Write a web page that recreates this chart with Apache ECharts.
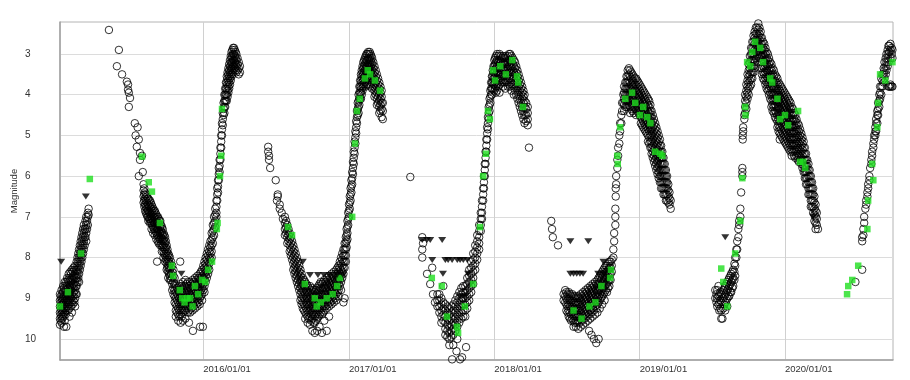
<!DOCTYPE html>
<html>
<head>
<meta charset="utf-8">
<script src="https://cdn.jsdelivr.net/npm/echarts@6/dist/echarts.min.js"></script>
<style>html,body{margin:0;padding:0;background:#fff}#c{width:910px;height:380px}</style>
</head>
<body>
<div id="c"></div>
<script>
// x values: days since 2015-01-01 (UTC); y values: magnitude
const BASE_DATE = '2015-01-01';
const X_TICK_LABELS = ['2016/01/01', '2017/01/01', '2018/01/01', '2019/01/01', '2020/01/01'];
const Y_TICK_VALUES = [3, 4, 5, 6, 7, 8, 9, 10];
const Y_NAME = 'Magnitude';

// visual estimates, rows: [day, mag, mag, ...]
const VIS_CYCLE1 = [
 [3, 9.0, 9.15, 9.3, 9.45], [5, 8.9, 9.05, 9.2, 9.35, 9.5, 9.65], [7, 8.95, 9.1, 9.25, 9.4, 9.55],
 [9, 8.8, 9.0, 9.15, 9.3, 9.45, 9.6], [11, 8.9, 9.05, 9.2, 9.35, 9.5], [13, 8.7, 8.85, 9.0, 9.15, 9.3, 9.45],
 [15, 8.75, 8.95, 9.1, 9.25, 9.4, 9.7], [17, 8.6, 8.8, 9.0, 9.2, 9.35, 9.55], [19, 8.7, 8.9, 9.05, 9.25, 9.4],
 [21, 8.6, 8.8, 8.95, 9.1, 9.3, 9.7], [23, 8.5, 8.7, 8.9, 9.05, 9.2], [25, 8.55, 8.75, 8.9, 9.1, 9.3],
 [27, 8.4, 8.6, 8.8, 9.0, 9.15], [29, 8.5, 8.7, 8.85, 9.05, 9.25, 9.45], [31, 8.35, 8.55, 8.75, 8.95, 9.1],
 [33, 8.4, 8.6, 8.8, 9.0, 9.2], [35, 8.3, 8.5, 8.7, 8.9, 9.1, 9.35], [37, 8.35, 8.55, 8.75, 8.95, 9.15],
 [39, 8.25, 8.45, 8.65, 8.85, 9.05], [41, 8.3, 8.5, 8.7, 8.9, 9.1], [43, 8.2, 8.4, 8.6, 8.8, 9.0, 9.2],
 [45, 8.3, 8.5, 8.7, 8.9], [47, 8.1, 8.3, 8.5, 8.7, 8.9], [49, 8.0, 8.2, 8.4, 8.6], [51, 7.9, 8.1, 8.3, 8.5],
 [53, 7.8, 8.0, 8.2, 8.4, 8.6], [55, 7.7, 7.9, 8.1, 8.3], [57, 7.6, 7.8, 8.0, 8.2], [59, 7.5, 7.7, 7.9, 8.1],
 [61, 7.4, 7.6, 7.8, 8.0], [63, 7.3, 7.5, 7.7, 7.9], [65, 7.2, 7.4, 7.6, 7.8], [67, 7.3, 7.5, 7.7],
 [69, 7.1, 7.3, 7.5], [71, 7.0, 7.2, 7.4, 7.6], [73, 7.1, 7.3], [75, 6.9, 7.0, 7.2], [77, 6.8, 6.95]
];
const VIS_CYCLE2 = [
 [128, 2.41], [148, 3.3], [153, 2.9], [161, 3.5], [173, 3.68], [176, 3.75, 3.88], [178, 3.95, 4.3], [181, 4.08],
 [193, 4.7], [195, 5.0], [198, 5.28], [200, 4.8], [203, 5.1, 6.0], [206, 5.43, 5.6], [211, 5.5], [213, 5.9],
 [215, 6.2, 6.35, 6.5, 6.65], [217, 6.3, 6.45, 6.6, 6.75], [219, 6.4, 6.55, 6.7, 6.85], [221, 6.45, 6.6, 6.75, 6.9],
 [223, 6.5, 6.65, 6.8, 6.95], [225, 6.55, 6.7, 6.85, 7.0], [227, 6.55, 6.7, 6.85, 7.0, 7.1], [229, 6.6, 6.75, 6.9, 7.05],
 [231, 6.6, 6.75, 6.9, 7.05, 7.15], [233, 6.65, 6.8, 6.95, 7.1], [235, 6.7, 6.85, 7.0, 7.15, 7.3],
 [237, 6.75, 6.9, 7.05, 7.2], [239, 6.8, 6.95, 7.1, 7.25, 7.4], [241, 6.85, 7.0, 7.15, 7.3],
 [243, 6.85, 7.0, 7.15, 7.3, 7.45], [245, 6.9, 7.05, 7.2, 7.35], [247, 6.95, 7.1, 7.25, 7.4, 7.55],
 [249, 7.0, 7.15, 7.3, 7.45, 8.1], [251, 7.0, 7.15, 7.3, 7.45, 7.6], [253, 7.05, 7.2, 7.35, 7.5, 7.65],
 [255, 7.1, 7.25, 7.4, 7.55], [257, 7.1, 7.25, 7.4, 7.55, 7.7], [259, 7.2, 7.35, 7.5, 7.65],
 [261, 7.25, 7.4, 7.55, 7.7, 7.85], [263, 7.3, 7.45, 7.6, 7.75], [265, 7.4, 7.55, 7.7, 7.85, 8.0],
 [267, 7.45, 7.6, 7.75, 7.9], [269, 7.5, 7.65, 7.8, 7.95, 8.1], [271, 7.6, 7.75, 7.9, 8.05],
 [273, 7.7, 7.85, 8.0, 8.15, 8.3], [275, 7.8, 7.95, 8.1, 8.25], [277, 7.9, 8.05, 8.2, 8.35, 8.5],
 [279, 7.95, 8.1, 8.25, 8.4], [281, 8.0, 8.15, 8.3, 8.45, 8.55], [284, 8.1, 8.25, 8.4, 8.55],
 [287, 8.2, 8.35, 8.5, 8.65, 8.8], [290, 8.3, 8.45, 8.6, 8.75, 8.9], [293, 8.5, 8.65, 8.8, 8.95, 9.1],
 [296, 8.7, 8.85, 9.0, 9.15, 9.3, 9.45], [299, 8.75, 8.9, 9.05, 9.2, 9.35], [302, 8.8, 8.95, 9.1, 9.25, 9.4, 9.55],
 [305, 8.7, 8.85, 9.0, 9.15, 9.3, 9.45], [307, 8.1], [308, 8.65, 8.8, 8.95, 9.1, 9.25, 9.4, 9.6],
 [311, 8.7, 8.85, 9.0, 9.15, 9.3, 9.45], [314, 8.6, 8.75, 8.9, 9.05, 9.2, 9.35, 9.55], [317, 8.7, 8.85, 9.0, 9.15, 9.3],
 [320, 8.55, 8.7, 8.85, 9.0, 9.15, 9.3, 9.5], [323, 8.65, 8.8, 8.95, 9.1, 9.25], [326, 8.6, 8.75, 8.9, 9.05, 9.2, 9.35],
 [329, 8.7, 8.85, 9.0, 9.15, 9.3, 9.6], [332, 8.6, 8.75, 8.9, 9.05, 9.2, 9.35], [335, 8.65, 8.8, 8.95, 9.1, 9.25],
 [338, 8.55, 8.7, 8.85, 9.0, 9.15, 9.3], [339, 9.8], [341, 8.6, 8.75, 8.9, 9.05, 9.2], [344, 8.5, 8.65, 8.8, 8.95, 9.1, 9.25],
 [347, 8.55, 8.7, 8.85, 9.0, 9.15], [350, 8.45, 8.6, 8.75, 8.9, 9.05, 9.2], [353, 8.5, 8.65, 8.8, 8.95, 9.1],
 [356, 8.4, 8.55, 8.7, 8.85, 9.0, 9.15], [357, 9.7], [359, 8.35, 8.5, 8.65, 8.8, 8.95], [362, 8.3, 8.45, 8.6, 8.75, 8.9, 9.05],
 [364, 9.7], [365, 8.2, 8.35, 8.5, 8.65, 8.8], [368, 8.1, 8.25, 8.4, 8.55, 8.7, 8.85], [371, 8.0, 8.15, 8.3, 8.45, 8.6],
 [374, 7.9, 8.05, 8.2, 8.35, 8.5], [377, 7.8, 7.95, 8.1, 8.25, 8.4],
 [380, 7.7, 7.85, 8.0, 8.15, 8.3], [383, 7.6, 7.75, 7.9, 8.05], [386, 7.4, 7.55, 7.7, 7.85, 8.0],
 [389, 7.2, 7.35, 7.5, 7.65], [392, 7.0, 7.15, 7.3, 7.45], [395, 6.8, 6.95, 7.1, 7.25], [398, 6.6, 6.75, 6.9, 7.0],
 [400, 6.3, 6.45, 6.6], [402, 6.1, 6.25, 6.4], [404, 5.8, 5.95, 6.1], [406, 5.6, 5.75, 5.9], [408, 5.3, 5.45, 5.6],
 [410, 5.0, 5.15, 5.3], [412, 4.7, 4.85, 5.0], [414, 4.45, 4.6, 4.75], [416, 4.2, 4.35, 4.5], [418, 4.0, 4.15, 4.3, 4.45],
 [420, 3.85, 4.0, 4.15, 4.3], [422, 3.7, 3.85, 4.0, 4.15], [424, 3.55, 3.7, 3.85, 4.0, 4.15],
 [426, 3.45, 3.6, 3.75, 3.9, 4.05], [428, 3.35, 3.5, 3.65, 3.8, 3.95], [430, 3.25, 3.4, 3.55, 3.7, 3.85],
 [432, 3.15, 3.3, 3.45, 3.6, 3.75], [434, 3.05, 3.2, 3.35, 3.5, 3.65], [436, 2.95, 3.1, 3.25, 3.4, 3.55],
 [438, 2.9, 3.05, 3.2, 3.35, 3.5], [440, 2.85, 3.0, 3.15, 3.3, 3.45], [442, 2.85, 3.0, 3.15, 3.3],
 [444, 2.9, 3.05, 3.2, 3.35], [446, 2.95, 3.1, 3.25, 3.4], [448, 3.0, 3.15, 3.3, 3.45], [451, 3.1, 3.25, 3.4],
 [454, 3.2, 3.35, 3.5], [457, 3.3, 3.45]
];
const VIS_CYCLE3 = [
 [528, 5.28, 5.4], [530, 5.5, 5.6], [533, 5.8], [547, 6.1], [550, 6.6], [552, 6.45, 6.5], [557, 6.7, 6.8],
 [562, 6.9], [565, 7.05], [570, 7.0, 7.15, 7.3, 7.45], [573, 7.1, 7.25, 7.4], [576, 7.2, 7.35, 7.5, 7.65],
 [579, 7.3, 7.45, 7.6], [582, 7.4, 7.55, 7.7, 7.85], [585, 7.5, 7.65, 7.8, 7.95], [588, 7.6, 7.75, 7.9, 8.05],
 [591, 7.7, 7.85, 8.0, 8.15, 8.3], [594, 7.8, 7.95, 8.1, 8.25, 8.4], [597, 7.9, 8.05, 8.2, 8.35, 8.5],
 [600, 8.0, 8.15, 8.3, 8.45, 8.6], [603, 8.1, 8.25, 8.4, 8.55, 8.7], [606, 8.2, 8.35, 8.5, 8.65, 8.8],
 [609, 8.3, 8.45, 8.6, 8.75, 8.9, 9.05], [612, 8.4, 8.55, 8.7, 8.85, 9.0, 9.15], [615, 8.5, 8.65, 8.8, 8.95, 9.1, 9.25],
 [618, 8.55, 8.7, 8.85, 9.0, 9.15, 9.3], [621, 8.6, 8.75, 8.9, 9.05, 9.2, 9.35, 9.5],
 [624, 8.65, 8.8, 8.95, 9.1, 9.25, 9.4], [627, 8.7, 8.85, 9.0, 9.15, 9.3, 9.45, 9.6],
 [630, 8.75, 8.9, 9.05, 9.2, 9.35, 9.5], [633, 8.7, 8.85, 9.0, 9.15, 9.3, 9.45, 9.65],
 [636, 8.8, 8.95, 9.1, 9.25, 9.4, 9.55], [639, 8.75, 8.9, 9.05, 9.2, 9.35, 9.5, 9.8],
 [642, 8.8, 8.95, 9.1, 9.25, 9.4, 9.6], [645, 8.85, 9.0, 9.15, 9.3, 9.45, 9.6, 9.85],
 [648, 8.8, 8.95, 9.1, 9.25, 9.4, 9.55], [651, 8.75, 8.9, 9.05, 9.2, 9.35, 9.5, 9.8],
 [654, 8.7, 8.85, 9.0, 9.15, 9.3, 9.45], [657, 8.65, 8.8, 8.95, 9.1, 9.25, 9.4, 9.7],
 [660, 8.6, 8.75, 8.9, 9.05, 9.2, 9.35], [663, 8.65, 8.8, 8.95, 9.1, 9.25, 9.4, 9.85],
 [666, 8.6, 8.75, 8.9, 9.05, 9.2, 9.35], [669, 8.55, 8.7, 8.85, 9.0, 9.15, 9.3, 9.55],
 [672, 8.6, 8.75, 8.9, 9.05, 9.2], [675, 8.5, 8.65, 8.8, 8.95, 9.1, 9.25, 9.8], [678, 8.55, 8.7, 8.85, 9.0, 9.15],
 [681, 8.45, 8.6, 8.75, 8.9, 9.05, 9.2, 9.45], [684, 8.5, 8.65, 8.8, 8.95, 9.1], [687, 8.4, 8.55, 8.7, 8.85, 9.0, 9.15],
 [690, 8.45, 8.6, 8.75, 8.9, 9.05], [693, 8.35, 8.5, 8.65, 8.8, 8.95, 9.1], [696, 8.4, 8.55, 8.7, 8.85, 9.0],
 [699, 8.3, 8.45, 8.6, 8.75, 8.9, 9.05], [702, 8.25, 8.4, 8.55, 8.7, 8.85], [705, 8.2, 8.35, 8.5, 8.65, 8.8, 8.95],
 [708, 8.1, 8.25, 8.4, 8.55, 8.7], [711, 8.0, 8.15, 8.3, 8.45, 8.6, 8.8], [714, 7.9, 8.05, 8.2, 8.35, 8.5],
 [717, 7.8, 7.95, 8.1, 8.25, 8.4, 9.1], [720, 7.65, 7.8, 7.95, 8.1, 8.25, 9.0],
 [723, 7.5, 7.65, 7.8, 7.95, 8.1], [725, 7.3, 7.45, 7.6, 7.75], [727, 7.1, 7.25, 7.4, 7.55], [729, 6.9, 7.05, 7.2],
 [731, 6.7, 6.85, 7.0], [733, 6.5, 6.65, 6.8], [735, 6.3, 6.45, 6.6], [737, 6.1, 6.25, 6.4], [739, 5.9, 6.05, 6.2],
 [741, 5.65, 5.8, 5.95], [743, 5.4, 5.55, 5.7], [745, 5.15, 5.3, 5.45], [747, 4.9, 5.05, 5.2], [749, 4.65, 4.8, 4.95],
 [751, 4.4, 4.55, 4.7], [753, 4.2, 4.35, 4.5], [755, 4.0, 4.15, 4.3, 4.45], [757, 3.8, 3.95, 4.1, 4.25],
 [759, 3.65, 3.8, 3.95, 4.1], [761, 3.5, 3.65, 3.8, 3.95, 4.1], [763, 3.4, 3.55, 3.7, 3.85, 4.0],
 [765, 3.3, 3.45, 3.6, 3.75, 3.9], [767, 3.2, 3.35, 3.5, 3.65, 3.8], [769, 3.15, 3.3, 3.45, 3.6, 3.75],
 [771, 3.1, 3.25, 3.4, 3.55, 3.7], [773, 3.05, 3.2, 3.35, 3.5, 3.65, 3.8], [775, 3.0, 3.15, 3.3, 3.45, 3.6],
 [777, 3.0, 3.15, 3.3, 3.45, 3.6, 3.75], [779, 2.95, 3.1, 3.25, 3.4, 3.55], [781, 3.0, 3.15, 3.3, 3.45, 3.6, 3.75],
 [783, 2.95, 3.1, 3.25, 3.4, 3.55], [785, 3.0, 3.15, 3.3, 3.45, 3.6, 3.8], [787, 3.05, 3.2, 3.35, 3.5, 3.65],
 [789, 3.1, 3.25, 3.4, 3.55, 3.7, 3.85], [792, 3.2, 3.35, 3.5, 3.65, 3.8], [795, 3.3, 3.45, 3.6, 3.75, 3.9, 4.05],
 [798, 3.4, 3.55, 3.7, 3.85, 4.0], [801, 3.5, 3.65, 3.8, 3.95, 4.1, 4.25], [804, 3.6, 3.75, 3.9, 4.05, 4.2],
 [807, 3.7, 3.85, 4.0, 4.15, 4.3, 4.45], [810, 3.8, 3.95, 4.1, 4.25, 4.4], [813, 3.9, 4.05, 4.2, 4.35, 4.55],
 [816, 4.2, 4.4, 4.6]
];
const VIS_CYCLE4 = [
 [885, 6.02], [915, 7.5, 7.8, 8.0], [917, 7.65], [927, 8.4], [935, 8.65], [940, 8.25], [942, 8.9], [947, 9.1],
 [953, 8.9, 9.05, 9.2], [958, 8.9, 9.05, 9.2, 9.35], [963, 9.0, 9.15, 9.3, 9.45, 9.6], [968, 8.7, 9.1, 9.25, 9.4, 9.55],
 [973, 9.15, 9.3, 9.45, 9.6, 9.75, 9.9], [978, 9.2, 9.35, 9.5, 9.65, 9.8, 9.95],
 [983, 9.25, 9.4, 9.55, 9.7, 9.85, 10.0, 10.15], [988, 9.2, 9.35, 9.5, 9.65, 9.8, 9.95],
 [990, 10.5], [993, 9.15, 9.3, 9.45, 9.6, 9.75, 9.9, 10.15], [998, 9.05, 9.2, 9.35, 9.5, 9.65, 9.8],
 [1001, 10.3], [1003, 8.95, 9.1, 9.25, 9.4, 9.55, 9.7, 10.0], [1008, 8.85, 9.0, 9.15, 9.3, 9.45, 9.6],
 [1010, 10.5], [1013, 8.75, 8.9, 9.05, 9.2, 9.35, 9.5], [1015, 10.45], [1018, 8.7, 8.85, 9.0, 9.15, 9.3, 9.45],
 [1023, 8.7, 8.85, 9.0, 9.15, 9.3, 9.45], [1025, 10.2], [1028, 8.5, 8.65, 8.8, 8.95, 9.1, 9.25],
 [1033, 8.3, 8.45, 8.6, 8.75, 8.9, 9.05], [1038, 8.1, 8.25, 8.4, 8.55, 8.7, 8.85],
 [1043, 7.9, 8.05, 8.2, 8.35, 8.5, 8.65], [1048, 7.7, 7.85, 8.0, 8.15, 8.3], [1053, 7.45, 7.6, 7.75, 7.9, 8.05],
 [1058, 7.2, 7.35, 7.5, 7.65, 7.8], [1062, 6.9, 7.05, 7.2, 7.35], [1065, 6.6, 6.75, 6.9, 7.05],
 [1068, 6.3, 6.45, 6.6], [1070, 6.0, 6.15, 6.3], [1072, 5.7, 5.85, 6.0], [1074, 5.4, 5.55, 5.7],
 [1076, 5.1, 5.25, 5.4], [1078, 4.8, 4.95, 5.1], [1080, 4.55, 4.7, 4.85], [1082, 4.3, 4.45, 4.6],
 [1084, 4.1, 4.25, 4.4], [1086, 3.9, 4.05, 4.2], [1088, 3.7, 3.85, 4.0], [1090, 3.55, 3.7, 3.85, 4.0],
 [1092, 3.4, 3.55, 3.7, 3.85], [1094, 3.3, 3.45, 3.6, 3.75],
 [1096, 3.15, 3.3, 3.45, 3.6, 3.75, 3.9], [1098, 3.1, 3.25, 3.4, 3.55, 3.7, 3.85],
 [1100, 3.05, 3.2, 3.35, 3.5, 3.65, 3.8, 3.95], [1103, 3.0, 3.15, 3.3, 3.45, 3.6, 3.75, 3.9],
 [1106, 3.05, 3.2, 3.35, 3.5, 3.65, 3.8], [1109, 3.0, 3.15, 3.3, 3.45, 3.6, 3.75, 3.95],
 [1112, 3.05, 3.2, 3.35, 3.5, 3.65], [1115, 3.1, 3.25, 3.4, 3.55, 3.7], [1118, 3.05, 3.2, 3.35, 3.5, 3.65, 3.8],
 [1121, 3.1, 3.25, 3.4, 3.55, 3.7], [1124, 3.05, 3.2, 3.35, 3.5, 3.65, 3.85], [1127, 3.1, 3.25, 3.4, 3.55, 3.7],
 [1130, 3.05, 3.2, 3.35, 3.5, 3.65, 3.8], [1133, 3.0, 3.15, 3.3, 3.45, 3.6, 3.75],
 [1136, 3.0, 3.15, 3.3, 3.45, 3.6, 3.8], [1139, 3.05, 3.2, 3.35, 3.5, 3.7, 3.9], [1142, 3.1, 3.25, 3.4, 3.55, 3.75],
 [1145, 3.15, 3.3, 3.45, 3.6, 3.8, 4.0], [1148, 3.2, 3.35, 3.5, 3.7, 3.9], [1151, 3.3, 3.45, 3.6, 3.8, 4.0],
 [1154, 3.4, 3.55, 3.7, 3.9, 4.1], [1157, 3.5, 3.65, 3.8, 4.0, 4.2], [1160, 3.6, 3.75, 3.9, 4.1, 4.3],
 [1163, 3.7, 3.85, 4.0, 4.2, 4.4], [1166, 3.8, 3.95, 4.1, 4.3, 4.5], [1169, 3.9, 4.05, 4.2, 4.4, 4.6],
 [1172, 4.0, 4.15, 4.3, 4.5, 4.7], [1176, 4.2, 4.35, 4.5, 4.65], [1180, 4.3, 4.45, 4.6, 4.75], [1183, 5.3]
];
const VIS_CYCLE5 = [
 [1239, 7.1], [1241, 7.3], [1243, 7.5], [1256, 7.7], [1270, 8.9, 9.05], [1274, 8.8, 8.95, 9.1],
 [1277, 8.85, 9.0, 9.15, 9.3], [1280, 8.9, 9.05, 9.2, 9.35], [1283, 8.85, 9.0, 9.15, 9.3, 9.45],
 [1286, 8.9, 9.05, 9.2, 9.35, 9.5], [1289, 8.95, 9.1, 9.25, 9.4, 9.55], [1292, 8.9, 9.05, 9.2, 9.35, 9.5],
 [1295, 8.95, 9.1, 9.25, 9.4, 9.55, 9.7], [1298, 9.0, 9.15, 9.3, 9.45, 9.6], [1301, 8.95, 9.1, 9.25, 9.4, 9.55, 9.7],
 [1304, 9.0, 9.15, 9.3, 9.45, 9.6], [1307, 8.95, 9.1, 9.25, 9.4, 9.55, 9.75], [1310, 9.0, 9.15, 9.3, 9.45, 9.6],
 [1313, 8.9, 9.05, 9.2, 9.35, 9.5, 9.7], [1316, 8.95, 9.1, 9.25, 9.4, 9.55], [1319, 8.85, 9.0, 9.15, 9.3, 9.45, 9.65],
 [1322, 8.9, 9.05, 9.2, 9.35, 9.5], [1325, 8.8, 8.95, 9.1, 9.25, 9.4, 9.6], [1328, 8.85, 9.0, 9.15, 9.3, 9.45],
 [1331, 8.75, 8.9, 9.05, 9.2, 9.35, 9.55], [1334, 8.8, 8.95, 9.1, 9.25, 9.4, 9.8], [1337, 8.7, 8.85, 9.0, 9.15, 9.3, 9.5],
 [1340, 8.75, 8.9, 9.05, 9.2, 9.35, 9.9], [1343, 8.65, 8.8, 8.95, 9.1, 9.25, 9.45],
 [1346, 8.7, 8.85, 9.0, 9.15, 9.3, 10.0], [1349, 8.6, 8.75, 8.9, 9.05, 9.2, 9.4],
 [1352, 8.65, 8.8, 8.95, 9.1, 9.25, 10.1], [1355, 8.55, 8.7, 8.85, 9.0, 9.15, 9.35],
 [1358, 8.5, 8.65, 8.8, 8.95, 9.1, 10.0], [1361, 8.45, 8.6, 8.75, 8.9, 9.05, 9.25], [1364, 8.4, 8.55, 8.7, 8.85, 9.0],
 [1367, 8.35, 8.5, 8.65, 8.8, 8.95, 9.15], [1370, 8.3, 8.45, 8.6, 8.75, 8.9], [1373, 8.25, 8.4, 8.55, 8.7, 8.85, 9.05],
 [1376, 8.2, 8.35, 8.5, 8.65, 8.8], [1379, 8.2, 8.35, 8.5, 8.65, 8.85], [1382, 8.15, 8.3, 8.45, 8.6, 8.75],
 [1385, 8.1, 8.25, 8.4, 8.55, 8.7], [1388, 8.1, 8.25, 8.4, 8.55], [1391, 8.05, 8.2, 8.35],
 [1395, 7.8, 8.0], [1397, 7.4, 7.6], [1400, 6.8, 7.0, 7.2], [1401, 6.3, 6.5], [1402, 6.0, 6.2], [1405, 5.6, 5.8],
 [1407, 5.3, 5.5], [1410, 5.0, 5.2], [1412, 4.7, 4.9], [1415, 4.5, 4.7], [1417, 4.2, 4.4], [1420, 4.0, 4.2],
 [1422, 3.8, 3.95, 4.1, 4.25, 4.4], [1425, 3.7, 3.85, 4.0, 4.15, 4.3], [1428, 3.55, 3.7, 3.85, 4.0, 4.15, 4.3],
 [1431, 3.4, 3.55, 3.7, 3.85, 4.0, 4.15], [1434, 3.35, 3.5, 3.65, 3.8, 3.95, 4.1, 4.25],
 [1437, 3.4, 3.55, 3.7, 3.85, 4.0, 4.15, 4.3, 4.45], [1440, 3.45, 3.6, 3.75, 3.9, 4.05, 4.2, 4.35],
 [1443, 3.5, 3.65, 3.8, 3.95, 4.1, 4.25, 4.4], [1446, 3.55, 3.7, 3.85, 4.0, 4.15, 4.3, 4.45],
 [1449, 3.6, 3.75, 3.9, 4.05, 4.2, 4.35], [1452, 3.6, 3.75, 3.9, 4.05, 4.2, 4.35, 4.5],
 [1455, 3.65, 3.8, 3.95, 4.1, 4.25, 4.4], [1458, 3.7, 3.85, 4.0, 4.15, 4.3, 4.45],
 [1461, 3.75, 3.9, 4.05, 4.2, 4.35, 4.5], [1464, 3.8, 3.95, 4.1, 4.25, 4.4, 4.55, 4.7],
 [1467, 3.85, 4.0, 4.15, 4.3, 4.45, 4.6, 4.75], [1470, 3.9, 4.05, 4.2, 4.35, 4.5, 4.65, 4.8],
 [1473, 3.95, 4.1, 4.25, 4.4, 4.55, 4.7, 4.85], [1476, 4.0, 4.15, 4.3, 4.45, 4.6, 4.75, 4.9],
 [1479, 4.05, 4.2, 4.35, 4.5, 4.65, 4.8, 4.95], [1482, 4.1, 4.25, 4.4, 4.55, 4.7, 4.85, 5.0, 5.15],
 [1485, 4.15, 4.3, 4.45, 4.6, 4.75, 4.9, 5.05, 5.2], [1488, 4.25, 4.4, 4.55, 4.7, 4.85, 5.0, 5.15, 5.3],
 [1491, 4.4, 4.55, 4.7, 4.85, 5.0, 5.15, 5.3, 5.45], [1494, 4.5, 4.65, 4.8, 4.95, 5.1, 5.25, 5.4, 5.55],
 [1497, 4.6, 4.75, 4.9, 5.05, 5.2, 5.35, 5.5, 5.65], [1500, 4.7, 4.85, 5.0, 5.15, 5.3, 5.45, 5.6, 5.75],
 [1503, 4.8, 4.95, 5.1, 5.25, 5.4, 5.55, 5.7, 5.85], [1506, 4.9, 5.05, 5.2, 5.35, 5.5, 5.65, 5.8, 5.95],
 [1509, 5.0, 5.15, 5.3, 5.45, 5.6, 5.75, 5.9, 6.05], [1512, 5.1, 5.25, 5.4, 5.55, 5.7, 5.85, 6.0, 6.15],
 [1515, 5.25, 5.4, 5.55, 5.7, 5.85, 6.0, 6.15, 6.3], [1518, 5.4, 5.55, 5.7, 5.85, 6.0, 6.15, 6.3],
 [1521, 5.55, 5.7, 5.85, 6.0, 6.15, 6.3, 6.45], [1524, 5.7, 5.85, 6.0, 6.15, 6.3, 6.45],
 [1527, 5.85, 6.0, 6.15, 6.3, 6.45, 6.6], [1530, 6.0, 6.15, 6.3, 6.45, 6.6], [1533, 6.2, 6.35, 6.5, 6.65],
 [1536, 6.4, 6.55, 6.7], [1539, 6.6, 6.8]
];
const VIS_CYCLE6 = [
 [1651, 8.8, 9.0], [1654, 8.9, 9.1], [1656, 8.8, 9.0, 9.2], [1659, 8.7, 8.95, 9.15], [1661, 8.9, 9.1, 9.3],
 [1664, 8.85, 9.05, 9.25], [1666, 8.9, 9.1, 9.3, 9.5], [1669, 9.5], [1671, 8.8, 9.0, 9.25], [1674, 8.75, 8.95, 9.15],
 [1676, 8.7, 8.9, 9.1, 9.3], [1679, 8.65, 8.85, 9.05], [1681, 8.6, 8.8, 9.0, 9.2], [1684, 8.55, 8.75, 8.95],
 [1686, 8.5, 8.7, 8.95], [1689, 8.45, 8.65, 8.85], [1691, 8.4, 8.6, 8.85], [1694, 8.35, 8.55, 8.75],
 [1696, 8.3, 8.5, 8.7], [1699, 8.15, 8.35, 8.55], [1701, 8.0, 8.2, 8.45], [1704, 7.8, 8.0], [1706, 7.6, 7.8],
 [1709, 7.3, 7.5], [1711, 7.1, 7.2], [1714, 6.8, 7.0], [1716, 6.4], [1719, 5.8, 5.9, 6.0], [1720, 5.0, 5.1],
 [1721, 4.8, 4.9], [1724, 4.5, 4.6],
 [1726, 4.0, 4.15, 4.3, 4.45], [1729, 3.75, 3.9, 4.05, 4.2, 4.35], [1732, 3.5, 3.65, 3.8, 3.95, 4.1],
 [1735, 3.25, 3.4, 3.55, 3.7, 3.85, 4.0], [1738, 3.05, 3.2, 3.35, 3.5, 3.65, 3.8],
 [1741, 2.85, 3.0, 3.15, 3.3, 3.45, 3.6, 3.75], [1744, 2.7, 2.85, 3.0, 3.15, 3.3, 3.45, 3.6],
 [1747, 2.55, 2.7, 2.85, 3.0, 3.15, 3.3, 3.45], [1750, 2.45, 2.6, 2.75, 2.9, 3.05, 3.2, 3.35],
 [1753, 2.35, 2.5, 2.65, 2.8, 2.95, 3.1], [1756, 2.2, 2.35, 2.5, 2.65, 2.8, 2.95],
 [1759, 2.25, 2.4, 2.55, 2.7, 2.85, 3.0], [1762, 2.35, 2.5, 2.65, 2.8, 2.95, 3.1],
 [1765, 2.45, 2.6, 2.75, 2.9, 3.05, 3.2, 3.35], [1768, 2.6, 2.75, 2.9, 3.05, 3.2, 3.35, 3.5],
 [1771, 2.7, 2.85, 3.0, 3.15, 3.3, 3.45, 3.6], [1774, 2.75, 2.9, 3.05, 3.2, 3.35, 3.5, 3.65],
 [1777, 2.85, 3.0, 3.15, 3.3, 3.45, 3.6, 3.75], [1780, 2.95, 3.1, 3.25, 3.4, 3.55, 3.7, 3.85],
 [1783, 3.0, 3.15, 3.3, 3.45, 3.6, 3.75, 3.9], [1786, 3.1, 3.25, 3.4, 3.55, 3.7, 3.85, 4.0],
 [1789, 3.2, 3.35, 3.5, 3.65, 3.8, 3.95, 4.1], [1792, 3.25, 3.4, 3.55, 3.7, 3.85, 4.0, 4.15, 4.3],
 [1795, 3.35, 3.5, 3.65, 3.8, 3.95, 4.1, 4.25, 4.4], [1798, 3.4, 3.55, 3.7, 3.85, 4.0, 4.15, 4.3, 4.45],
 [1801, 3.5, 3.65, 3.8, 3.95, 4.1, 4.25, 4.4, 4.55], [1804, 3.55, 3.7, 3.85, 4.0, 4.15, 4.3, 4.45, 4.6],
 [1807, 3.6, 3.75, 3.9, 4.05, 4.2, 4.35, 4.5, 4.65, 4.8], [1810, 3.7, 3.85, 4.0, 4.15, 4.3, 4.45, 4.6, 4.75, 4.9],
 [1813, 3.75, 3.9, 4.05, 4.2, 4.35, 4.5, 4.65, 4.8, 4.95, 5.1], [1816, 3.8, 3.95, 4.1, 4.25, 4.4, 4.55, 4.7, 4.85, 5.0],
 [1819, 3.85, 4.0, 4.15, 4.3, 4.45, 4.6, 4.75, 4.9, 5.05], [1822, 3.9, 4.05, 4.2, 4.35, 4.5, 4.65, 4.8, 4.95, 5.1],
 [1825, 3.95, 4.1, 4.25, 4.4, 4.55, 4.7, 4.85, 5.0, 5.15], [1828, 4.0, 4.15, 4.3, 4.45, 4.6, 4.75, 4.9, 5.05, 5.2],
 [1831, 4.05, 4.2, 4.35, 4.5, 4.65, 4.8, 4.95, 5.1, 5.25], [1834, 4.1, 4.25, 4.4, 4.55, 4.7, 4.85, 5.0, 5.15, 5.3],
 [1837, 4.15, 4.3, 4.45, 4.6, 4.75, 4.9, 5.05, 5.2, 5.35], [1840, 4.2, 4.35, 4.5, 4.65, 4.8, 4.95, 5.1, 5.25, 5.4],
 [1843, 4.3, 4.45, 4.6, 4.75, 4.9, 5.05, 5.2, 5.35, 5.5], [1846, 4.35, 4.5, 4.65, 4.8, 4.95, 5.1, 5.25, 5.4],
 [1849, 4.45, 4.6, 4.75, 4.9, 5.05, 5.2, 5.35, 5.5], [1852, 4.5, 4.65, 4.8, 4.95, 5.1, 5.25, 5.4, 5.55],
 [1855, 4.6, 4.75, 4.9, 5.05, 5.2, 5.35, 5.5], [1858, 4.7, 4.85, 5.0, 5.15, 5.3, 5.45, 5.6],
 [1861, 4.75, 4.9, 5.05, 5.2, 5.35, 5.5, 5.65], [1864, 4.85, 5.0, 5.15, 5.3, 5.45, 5.6],
 [1867, 4.95, 5.1, 5.25, 5.4, 5.55, 5.7], [1870, 5.05, 5.2, 5.35, 5.5, 5.65, 5.8],
 [1873, 5.15, 5.3, 5.45, 5.6, 5.75, 5.9], [1876, 5.3, 5.45, 5.6, 5.75, 5.9, 6.05],
 [1879, 5.45, 5.6, 5.75, 5.9, 6.05, 6.2], [1882, 5.6, 5.75, 5.9, 6.05, 6.2], [1885, 5.7, 5.85, 6.0, 6.15, 6.3, 6.45],
 [1888, 5.85, 6.0, 6.15, 6.3, 6.45], [1891, 6.0, 6.15, 6.3, 6.45, 6.6, 6.75], [1894, 6.15, 6.3, 6.45, 6.6, 6.75],
 [1897, 6.3, 6.45, 6.6, 6.75, 6.9], [1900, 6.5, 6.65, 6.8, 6.95, 7.1], [1903, 6.7, 6.85, 7.0, 7.15, 7.3],
 [1906, 6.9, 7.05, 7.2], [1909, 7.3]
];
const VIS_CYCLE7 = [
 [2003, 8.6], [2020, 8.3, 7.6, 7.5], [2023, 7.3, 7.45], [2025, 7.0, 7.15], [2028, 6.8], [2030, 6.6, 6.7],
 [2033, 6.4, 6.5], [2035, 6.2, 6.3], [2038, 6.0, 6.1], [2040, 5.8], [2043, 5.6, 5.7], [2045, 5.4, 5.5],
 [2048, 5.2, 5.3], [2050, 5.0, 5.1], [2053, 4.8, 4.9, 5.0], [2055, 4.6, 4.7, 4.9], [2058, 4.4, 4.5, 4.7],
 [2060, 4.2, 4.35, 4.5], [2063, 4.0, 4.15, 4.3], [2065, 3.8, 3.95, 4.1], [2068, 3.6, 3.8, 4.0], [2071, 3.5, 3.65, 3.8],
 [2074, 3.35, 3.5, 3.7], [2076, 3.2, 3.4, 3.6], [2079, 3.1, 3.3, 3.5], [2081, 3.0, 3.2, 3.4], [2084, 2.9, 3.1, 3.3],
 [2086, 2.8, 3.0, 3.2, 3.8], [2088, 2.8, 2.95, 3.8], [2091, 2.75, 2.9, 3.1, 3.75, 3.8], [2094, 2.85, 3.0, 3.8],
 [2096, 2.9, 3.1, 3.8]
];

// CCD / V observations [day, mag]
const GREEN_OBS = [
 [5, 9.2], [25, 8.85], [58, 7.9], [80, 6.07],
 [211, 5.52], [228, 6.15], [236, 6.38], [256, 7.15], [286, 8.2], [289, 8.45], [306, 8.8], [312, 9.0], [318, 9.1],
 [325, 9.0], [332, 9.0], [338, 9.2], [344, 8.7], [352, 8.9], [362, 8.55], [370, 8.6], [377, 8.3], [387, 8.1],
 [399, 7.3], [401, 7.15], [407, 6.0], [410, 5.5], [412, 4.35],
 [578, 7.25], [588, 7.45], [620, 8.65], [645, 9.0], [650, 9.2], [660, 9.1], [675, 9.0], [690, 8.9], [701, 8.7],
 [708, 8.5], [739, 7.0], [746, 5.2], [751, 4.4], [758, 4.1], [771, 3.6], [778, 3.4], [784, 3.5], [796, 3.65], [809, 3.9],
 [939, 8.5], [964, 8.7], [977, 9.45], [1002, 9.7], [1005, 9.85], [1022, 9.2], [1043, 8.65], [1060, 7.25],
 [1068, 6.0], [1075, 5.45], [1080, 4.4], [1085, 4.6], [1093, 3.4], [1098, 3.65], [1111, 3.3], [1125, 3.5],
 [1141, 3.15], [1153, 3.55], [1156, 3.7], [1168, 4.3],
 [1295, 9.3], [1315, 9.5], [1335, 9.2], [1350, 9.1], [1365, 8.7], [1387, 8.5], [1389, 8.3], [1405, 5.5], [1406, 5.7],
 [1412, 4.8], [1425, 4.1], [1442, 3.95], [1450, 4.2], [1462, 4.5], [1470, 4.3], [1480, 4.55], [1488, 4.7],
 [1500, 5.4], [1513, 5.45], [1518, 5.5],
 [1666, 8.27], [1671, 8.6], [1681, 9.2], [1701, 7.9], [1714, 7.1], [1719, 6.05], [1726, 4.3], [1727, 4.5],
 [1731, 3.2], [1739, 3.3], [1744, 2.95], [1751, 2.7], [1764, 2.85], [1771, 3.2], [1789, 3.6], [1794, 3.7],
 [1807, 4.1], [1814, 4.6], [1826, 4.5], [1834, 4.75], [1859, 4.4], [1864, 5.65], [1872, 5.65], [1877, 5.8],
 [1982, 8.9], [1985, 8.7], [1995, 8.55], [2010, 8.2], [2033, 7.3], [2035, 6.6], [2045, 5.7], [2048, 6.1],
 [2058, 4.8], [2060, 4.2], [2065, 3.5], [2078, 3.65], [2096, 3.2]
];

// fainter-than limits [day, mag]
const FAINTER_THAN = [
 [8, 8.1], [70, 6.5], [310, 8.4],
 [615, 8.1], [633, 8.43], [653, 8.43], [668, 8.43], [683, 8.43], [701, 8.43], [716, 8.43],
 [915, 7.57], [927, 7.57], [935, 7.57], [965, 7.57],
 [940, 8.06], [973, 8.06], [980, 8.06], [990, 8.06], [1003, 8.06], [1010, 8.06], [1018, 8.06], [1028, 8.06],
 [967, 8.4], [1030, 8.4], [1010, 8.95], [1022, 8.95],
 [1287, 7.6], [1332, 7.6], [1370, 8.1], [1287, 8.4], [1295, 8.4], [1303, 8.4], [1311, 8.4], [1319, 8.4],
 [1357, 8.4], [1370, 8.4],
 [1676, 7.5], [1897, 7.0]
];

const BASE_MS = Date.parse(BASE_DATE + 'T00:00:00Z');
function labelToDay(s) { return Math.round((Date.parse(s.replace(/\//g, '-') + 'T00:00:00Z') - BASE_MS) / 864e5); }
function dayToLabel(d) {
  const t = new Date(BASE_MS + Math.round(d) * 864e5);
  const p = n => String(n).padStart(2, '0');
  return t.getUTCFullYear() + '/' + p(t.getUTCMonth() + 1) + '/' + p(t.getUTCDate());
}
function expandRows(rows) {
  const out = [];
  rows.forEach(r => { for (let i = 1; i < r.length; i++) out.push([r[0], r[i]]); });
  return out;
}
const visualData = [].concat(
  expandRows(VIS_CYCLE1), expandRows(VIS_CYCLE2), expandRows(VIS_CYCLE3), expandRows(VIS_CYCLE4),
  expandRows(VIS_CYCLE5), expandRows(VIS_CYCLE6), expandRows(VIS_CYCLE7));
const xTickDays = X_TICK_LABELS.map(labelToDay);

const FONT = 'Liberation Sans, Arial, sans-serif';
const chart = echarts.init(document.getElementById('c'), null, { renderer: 'canvas' });
chart.setOption({
  animation: false,
  backgroundColor: '#fff',
  grid: { left: 60, right: 17, top: 22, bottom: 20, outerBoundsMode: 'none', containLabel: false,
    show: true, borderColor: '#b4b4b4', borderWidth: 1 },
  xAxis: {
    type: 'value', min: 5.1, max: 2097.4,
    axisLine: { show: true, lineStyle: { color: '#a0a0a0', width: 1.5 } },
    axisTick: { show: false, customValues: xTickDays },
    axisLabel: { customValues: xTickDays, formatter: v => dayToLabel(v), align: 'left', margin: 4,
      fontSize: 9.5, color: '#333', fontFamily: FONT },
    splitLine: { show: true, lineStyle: { color: '#d0d0d0', width: 1 } }
  },
  yAxis: {
    type: 'value', inverse: true, min: 2.214, max: 10.516,
    name: Y_NAME, nameLocation: 'middle', nameGap: 41, nameRotate: 90, nameMoveOverlap: false,
    nameTextStyle: { fontSize: 9.5, color: '#333', fontFamily: FONT },
    axisLine: { show: true, lineStyle: { color: '#a0a0a0', width: 1.5 } },
    axisTick: { show: false, customValues: Y_TICK_VALUES },
    axisLabel: { customValues: Y_TICK_VALUES, align: 'left', margin: 35, fontSize: 10, color: '#333', fontFamily: FONT },
    splitLine: { show: true, lineStyle: { color: '#dcdcdc', width: 1 } }
  },
  series: [
    { name: 'Visual', type: 'scatter', silent: true, large: false, data: visualData, symbol: 'circle', symbolSize: 7.5,
      itemStyle: { color: 'rgba(0,0,0,0)', borderColor: '#000', borderWidth: 1 } },
    { name: 'CCD', type: 'scatter', silent: true, data: GREEN_OBS, symbol: 'rect', symbolSize: 6.5,
      itemStyle: { color: '#1fdf1f' } },
    { name: 'Fainter than', type: 'scatter', silent: true, data: FAINTER_THAN, symbol: 'triangle',
      symbolRotate: 180, symbolSize: [8, 6], itemStyle: { color: '#000' } }
  ]
});
</script>
</body>
</html>
